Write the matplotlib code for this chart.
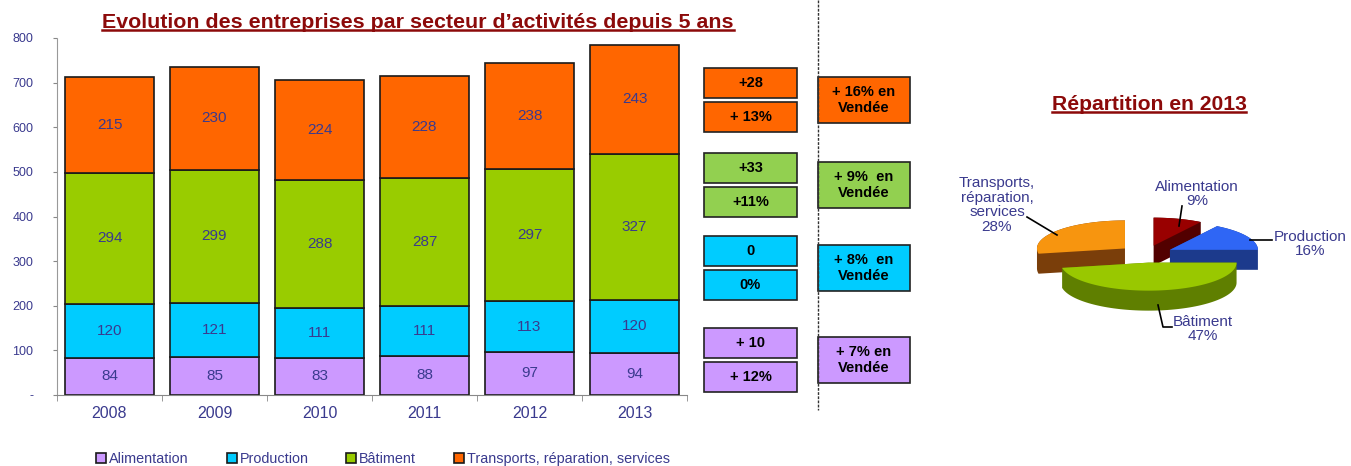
import numpy as np
import matplotlib
matplotlib.use("Agg")
import matplotlib.pyplot as plt
from matplotlib.patches import Rectangle, Polygon
from matplotlib.lines import Line2D

plt.rcParams["font.family"] = ["Liberation Sans", "DejaVu Sans"]

# data
years = ["2008", "2009", "2010", "2011", "2012", "2013"]
sectors = ["Alimentation", "Production", "Bâtiment", "Transports, réparation, services"]
alimentation = [84, 85, 83, 88, 97, 94]
production = [120, 121, 111, 111, 113, 120]
batiment = [294, 299, 288, 287, 297, 327]
transports = [215, 230, 224, 228, 238, 243]
ytick_values = [0, 100, 200, 300, 400, 500, 600, 700, 800]
ytick_labels = ["-", "100", "200", "300", "400", "500", "600", "700", "800"]

# side boxes, one entry per sector (same order as sectors)
diff_labels = ["+ 10", "0", "+33", "+28"]
pct_labels = ["+ 12%", "0%", "+11%", "+ 13%"]
vendee_labels = ["+ 7% en\nVendée", "+ 8%  en\nVendée", "+ 9%  en\nVendée", "+ 16% en\nVendée"]

# 2013 breakdown pie
pie_labels = ["Alimentation\n9%", "Production\n16%", "Bâtiment\n47%",
              "Transports,\nréparation,\nservices\n28%"]
pie_share = [9, 16, 47, 28]

bar_colors = ["#CC99FF", "#00CCFF", "#99CC00", "#FF6600"]
box_colors = ["#CC99FF", "#00CCFF", "#92D050", "#FF6600"]
pie_top = ["#990000", "#2F66F5", "#99C800", "#F7950F"]
pie_side = ["#520000", "#1C3A8C", "#5F7F00", "#7A3E0A"]
navy = "#3A3A8E"
darkred = "#8C0A0A"

W, H = 1351, 466
fig = plt.figure(figsize=(W / 100, H / 100), dpi=100)

###############################################################################
# Stacked bars
ax = fig.add_axes([57 / W, 1 - 395 / H, 630 / W, 357 / H])
x = np.arange(len(years))
bottom = np.zeros(len(years))
for vals, col, name in zip([alimentation, production, batiment, transports], bar_colors, sectors):
    bars = ax.bar(x, vals, 0.84, bottom=bottom, color=col, edgecolor="#1a1a1a",
                  linewidth=1.2, label=name)
    ax.bar_label(bars, labels=[str(v) for v in vals], label_type="center",
                 color=navy, fontsize=11)
    bottom += np.array(vals)

ax.set_xlim(-0.5, 5.5)
ax.set_ylim(0, 800)
ax.set_yticks(ytick_values, ytick_labels)
ax.set_xticks(x, years)
ax.set_xticks(np.arange(-0.5, 6, 1), minor=True)
ax.tick_params(axis="x", which="major", length=0, pad=8, labelsize=11.5, labelcolor=navy)
ax.tick_params(axis="x", which="minor", length=4, color="#888888")
ax.tick_params(axis="y", length=3, color="#888888", pad=14, labelsize=9, labelcolor=navy)
for s in ["top", "right"]:
    ax.spines[s].set_visible(False)
ax.spines["left"].set_color("#999999")
ax.spines["left"].set_linestyle((0, (1, 1)))
ax.spines["bottom"].set_color("#888888")

handles, labels = ax.get_legend_handles_labels()
fig.legend(handles, labels, loc="center", bbox_to_anchor=(383 / W, 1 - 459 / H), ncol=4,
           frameon=False, fontsize=10.4, handlelength=0.7, handleheight=0.7,
           handletextpad=0.2, columnspacing=2.6, labelcolor=navy)

###############################################################################
# Overlay in pixel coordinates for the boxes and the pie
ov = fig.add_axes([0, 0, 1, 1])
ov.set_xlim(0, W)
ov.set_ylim(H, 0)
ov.axis("off")

ov.plot([818, 818], [0, 410], color="#333333", lw=1, ls=(0, (2, 1)))

row_tops = [328, 236, 153, 68]
for i in range(4):
    t = row_tops[i]
    for j, txt in enumerate([diff_labels[i], pct_labels[i]]):
        y0 = t + 34 * j
        ov.add_patch(Rectangle((704, y0), 93, 30, facecolor=box_colors[i],
                               edgecolor="#222222", lw=1.2))
        ov.text(750.5, y0 + 15, txt, ha="center", va="center", fontsize=10.5,
                fontweight="bold", color="black")
    ov.add_patch(Rectangle((818, t + 9), 92, 46, facecolor=box_colors[i],
                           edgecolor="#222222", lw=1.2))
    ov.text(864, t + 32, vendee_labels[i], ha="center", va="center", fontsize=10.5,
            fontweight="bold", color="black", linespacing=1.2)


def convex_hull(pts):
    pts = sorted(set(map(tuple, np.round(pts, 4))))

    def cross(o, a, b):
        return (a[0] - o[0]) * (b[1] - o[1]) - (a[1] - o[1]) * (b[0] - o[0])

    lower, upper = [], []
    for p in pts:
        while len(lower) >= 2 and cross(lower[-2], lower[-1], p) <= 0:
            lower.pop()
        lower.append(p)
    for p in reversed(pts):
        while len(upper) >= 2 and cross(upper[-2], upper[-1], p) <= 0:
            upper.pop()
        upper.append(p)
    return np.array(lower[:-1] + upper[:-1])


# pseudo 3D exploded pie
cx, cy, rx, ry, depth, expl = 1146, 254, 88, 28, 20, 0.31
edges = 90 - 360 * np.cumsum([0] + pie_share) / 100
wedges = []
for i in range(len(pie_share)):
    a1, a2 = edges[i], edges[i + 1]
    mid = np.radians((a1 + a2) / 2)
    t = np.radians(np.linspace(a1, a2, 80))
    ox = cx + expl * rx * np.cos(mid)
    oy = cy - expl * ry * np.sin(mid)
    top = np.column_stack([np.r_[ox, ox + rx * np.cos(t)], np.r_[oy, oy - ry * np.sin(t)]])
    wedges.append((np.sin(mid), i, top))

for _, i, top in sorted(wedges, key=lambda w: -w[0]):
    body = convex_hull(np.vstack([top, top + [0, depth]]))
    ov.add_patch(Polygon(body, closed=True, facecolor=pie_side[i], edgecolor="none"))
    ov.add_patch(Polygon(top, closed=True, facecolor=pie_top[i], edgecolor="none"))

label_pos = [(1197, 194), (1310, 244), (1203, 329), (997, 205)]
for lab, (lx, ly) in zip(pie_labels, label_pos):
    ov.text(lx, ly, lab, ha="center", va="center", fontsize=11, color=navy,
            linespacing=1.05)
leaders = [([1182, 1179], [206, 226]), ([1250, 1272], [240, 240]),
           ([1158, 1163, 1172], [305, 327, 327]), ([1027, 1057], [217, 235])]
for lx, ly in leaders:
    ov.plot(lx, ly, color="black", lw=1.2)

###############################################################################
# Titles with underline
t1 = fig.text(418 / W, 1 - 22 / H, "Evolution des entreprises par secteur d’activités depuis 5 ans",
              ha="center", va="center", fontsize=15.4, fontweight="bold", color=darkred)
t2 = fig.text(1149 / W, 1 - 104 / H, "Répartition en 2013", ha="center", va="center",
              fontsize=15.2, fontweight="bold", color=darkred)
fig.canvas.draw()
renderer = fig.canvas.get_renderer()
for t in [t1, t2]:
    bb = t.get_window_extent(renderer).transformed(fig.transFigure.inverted())
    yy = bb.y0 + 1.5 / H
    fig.add_artist(Line2D([bb.x0, bb.x1], [yy, yy], transform=fig.transFigure,
                          color=darkred, lw=1.8))

fig.savefig("out.png", dpi=100)
